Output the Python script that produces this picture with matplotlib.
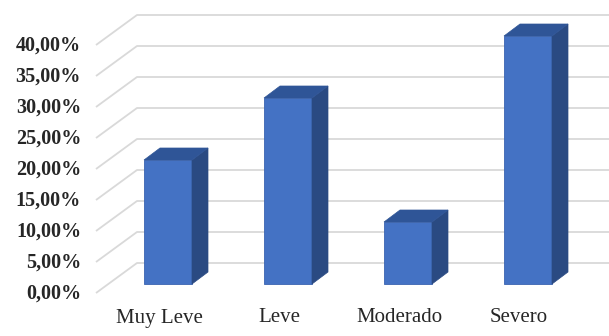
import matplotlib
matplotlib.use("Agg")
import matplotlib.pyplot as plt
from matplotlib.patches import Polygon

categories = ["Muy Leve", "Leve", "Moderado", "Severo"]
values = [20, 30, 10, 40]          # percent
ticks = [0, 5, 10, 15, 20, 25, 30, 35, 40]
tick_labels = ["0,00%", "5,00%", "10,00%", "15,00%", "20,00%",
               "25,00%", "30,00%", "35,00%", "40,00%"]

W, H, DPI = 609, 336, 100
fig = plt.figure(figsize=(W / DPI, H / DPI), dpi=DPI)
ax = fig.add_axes([0, 0, 1, 1])
ax.axis("off")

# scale: one category = 120 px, 5 % = 31 px
PX_X = 120.0
PX_Y = 31.0 / 5.0
x0_px, base_px = 168.0, 284.0
ax.set_xlim(-x0_px / PX_X, (W - x0_px) / PX_X)
ax.set_ylim((base_px - H) / PX_Y, base_px / PX_Y)

def dx(px):
    return px / PX_X

def dy(px):
    return px / PX_Y

plt.rcParams["font.family"] = ["Liberation Serif", "DejaVu Serif"]

# 3D back-wall gridlines
front_off = dy(-9)   # front edge of floor relative to bar base
back_off = dy(21)
fx = dx(96 - x0_px)
bx = dx(137 - x0_px)
xr = ax.get_xlim()[1]
grid_c = "#d9d9d9"
for t, lab in zip(ticks, tick_labels):
    ax.plot([fx, bx, xr], [t + front_off, t + back_off, t + back_off],
            color=grid_c, lw=1.3, solid_capstyle="butt", zorder=1)
    ax.text(dx(81 - x0_px), t + front_off - dy(1), lab, ha="right", va="center",
            fontsize=14.5, fontweight="bold", color="#262626",
            family=["Liberation Serif", "DejaVu Serif"])

# bars
bw = 0.4
ddx, ddy = dx(16), dy(12)
front_c = "#4472c4"
side_c = "#2a4a82"
top_c = "#2f5597"
for i, v in enumerate(values):
    l, r = i - bw / 2, i + bw / 2
    ax.bar(i, v, width=bw, bottom=0, color=front_c, edgecolor="#3b64b0",
           linewidth=0.6, zorder=3)
    ax.add_patch(Polygon([(r, 0), (r + ddx, ddy), (r + ddx, v + ddy), (r, v)],
                         closed=True, facecolor=side_c, edgecolor=side_c,
                         linewidth=0.5, zorder=3))
    ax.add_patch(Polygon([(l, v), (r, v), (r + ddx, v + ddy), (l + ddx, v + ddy)],
                         closed=True, facecolor=top_c, edgecolor=top_c,
                         linewidth=0.5, zorder=3))
    ax.text(i - dx(9), dy(284 - 318), categories[i], ha="center", va="center",
            fontsize=15, color="#262626",
            family=["Liberation Serif", "DejaVu Serif"])

fig.savefig("out.png", dpi=DPI, facecolor="white")
